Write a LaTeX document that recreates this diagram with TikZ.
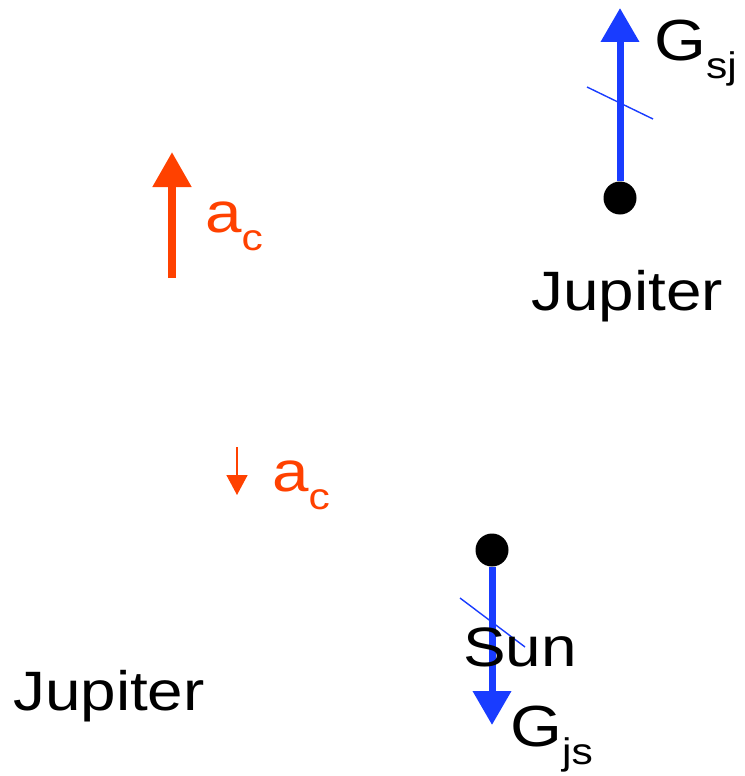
\documentclass[tikz,border=0pt]{standalone}
\usepackage{fontspec}
\setmainfont{Liberation Sans}[FakeStretch=1.15]
\usetikzlibrary{arrows.meta}
\definecolor{gravblue}{RGB}{25,60,255}
\definecolor{accorange}{RGB}{255,65,0}
\newcommand{\lowidx}[1]{\raisebox{-18pt}{\fontsize{37}{37}\selectfont #1}}

\begin{document}
\begin{tikzpicture}[
      x=1pt, y=-1pt,
      planet/.style={circle, fill=black, inner sep=0pt, minimum size=33pt},
      force/.style={draw=gravblue, line width=7pt, -{Triangle[length=34pt,width=37pt]}},
      tick/.style={draw=gravblue, line width=1.4pt},
      accel/.style={draw=accorange, line width=8pt, -{Triangle[length=35pt,width=37pt]}},
      smallaccel/.style={draw=accorange, line width=1.6pt, -{Triangle[length=20pt,width=21pt]}},
      bodyname/.style={anchor=base west, inner sep=0pt, font=\fontsize{55.5}{60}\selectfont},
      forcelabel/.style={anchor=base west, inner sep=0pt, font=\fontsize{58}{60}\selectfont},
      accellabel/.style={anchor=base west, inner sep=0pt, text=accorange, font=\fontsize{57}{60}\selectfont}
    ]
      \useasboundingbox (0,0) rectangle (744,776);

      % Jupiter, top right
      \node[planet] (jup) at (620,198) {};
      \coordinate (jtip) at (620,8);
      \draw[force] (jup) -- (jtip);
      \draw[tick] (587,87) -- (653,119);
      \node[forcelabel] (gsj) at (654,60) {G\lowidx{sj}};
      \node[bodyname] (jupname) at (531,310) {Jupiter};

      % accelerations
      \coordinate (abig0) at (172,278);
      \coordinate (abig1) at (172,152);
      \draw[accel] (abig0) -- (abig1);
      \node[accellabel] (acbig) at (205,232) {a\lowidx{c}};
      \coordinate (asmall0) at (237,447);
      \coordinate (asmall1) at (237,495);
      \draw[smallaccel] (asmall0) -- (asmall1);
      \node[accellabel] (acsmall) at (272,491) {a\lowidx{c}};

      % Sun
      \node[planet] (sun) at (492,550) {};
      \coordinate (stip) at (492,725);
      \draw[force] (sun) -- (stip);
      \draw[tick] (460,598) -- (525,647);
      \node[bodyname] (sunname) at (463,666) {Sun};
      \node[forcelabel] (gjs) at (510,746) {G\lowidx{js}};

      \node[bodyname] (jupname2) at (13,710) {Jupiter};
    \end{tikzpicture}
\end{document}
